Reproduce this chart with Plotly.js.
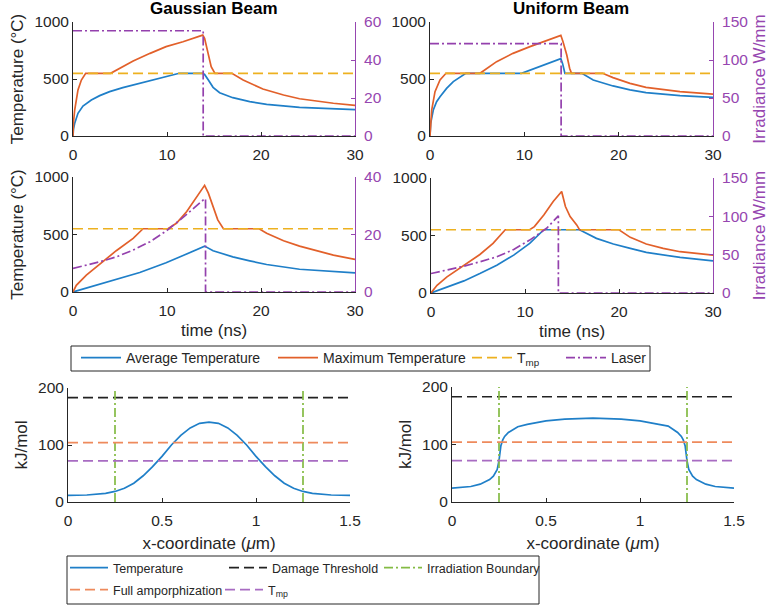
<!DOCTYPE html>
<html><head><meta charset="utf-8">
<script src="https://cdn.plot.ly/plotly-3.0.1.min.js"></script>
<style>html,body{margin:0;padding:0;background:#fff}#chart{width:769px;height:607px}</style>
</head><body><div id="chart"></div><script>
// ---------- DATA ----------
// Gaussian beam, top row
const gTopAvgT = [0,0.05,0.18,0.53,1.06,1.95,2.84,3.9,5.3,7.1,8.5,9.9,11,11.3,13.8,14.0,14.4,14.9,15.6,17,18.8,20.6,24.1,27.7,30];
const gTopAvg  = [0,60,111,199,263,316,354,389,424,462,491,515,544,550,550,540,491,427,380,336,301,278,251,237,232];
const gTopMaxT = [0,0.05,0.18,0.53,0.89,1.35,4.0,5.0,6.4,8.2,9.9,11.7,13.8,14.0,14.4,14.7,15.1,16.9,18.1,20.2,22.4,24.1,27.7,30];
const gTopMax  = [0,120,228,404,491,550,550,594,658,725,784,827,885,857,725,608,550,550,491,412,360,327,287,269];
const gTopLaserT = [0,13.85,13.85,30];
const gTopLaser  = [55.4,55.4,0,0];
// Uniform beam, top row
const uTopAvgT = [0,0.07,0.35,0.7,1.06,1.76,2.47,3.2,3.7,3.8,9.7,10.6,12.35,13.87,14.05,14.3,16.1,17.3,19.4,21.2,22.9,26.5,30];
const uTopAvg  = [0,111,228,301,345,418,477,518,547,550,550,579,629,678,637,550,550,491,439,404,380,354,339];
const uTopMaxT = [0,0.18,0.53,1.06,1.7,5.3,7.06,8.8,10.6,12.35,13.87,14.1,14.5,14.8,15.0,18.3,19.4,21.2,22.9,26.5,30];
const uTopMax  = [0,228,389,491,550,550,652,725,784,836,883,827,711,594,550,550,512,462,427,389,368];
const uTopLaserT = [0,13.9,13.9,30];
const uTopLaser  = [121.5,121.5,0,0];
// Gaussian beam, middle row
const gMidAvgT = [0,2.84,5.0,7.1,8.9,9.9,11.4,12.8,14.0,14.9,17,18.8,20.6,24.1,27.7,30];
const gMidAvg  = [0,67,117,169,224,254,306,359,399,359,306,271,239,198,175,166];
const gMidMaxT = [0,0.35,1.42,2.84,4.6,6.4,7.45,10.1,11.0,12.1,13.1,14.0,14.4,14.9,15.4,16.0,19.8,20.6,22.4,24.1,25.9,27.7,30];
const gMidMax  = [0,58,146,242,359,466,550,550,598,700,816,927,860,743,627,550,550,510,446,399,359,321,283];
const gMidLaserT = [0,2.84,4.6,6.4,8.2,9.9,11.4,12.8,14.0,14.1,14.1,30];
const gMidLaser  = [8.2,10.5,12.2,14.6,17.5,21.2,25.1,29.2,32.4,32.4,0,0];
// Uniform beam, middle row
const uMidAvgT = [0,1.7,3.5,5.2,7.0,8.8,10.5,12.0,15.8,17.6,19.4,21.2,22.9,26.5,30];
const uMidAvg  = [0,52,105,169,242,329,431,550,550,475,426,388,353,309,280];
const uMidMaxT = [0,0.64,1.7,3.5,5.2,6.6,7.9,10.5,11.0,12.0,13.0,13.9,14.3,14.8,15.5,15.8,20.0,21.2,22.9,24.7,26.5,30];
const uMidMax  = [0,67,140,242,335,431,550,550,577,679,796,883,752,665,592,550,550,484,426,388,359,329];
const uMidLaserT = [0,1.7,3.5,5.2,7.0,8.8,10.5,12.3,13.55,13.55,30];
const uMidLaser  = [25.4,29.7,35,40.7,47.2,56.8,69,84.4,100.6,0,0];
// Melting temperature (°C) and time span
const tmpTime = [0,30];
const tmpValue = [550,550];
// Bottom row: energy along x (kJ/mol)
const gBotX = [0,0.1,0.2,0.25,0.3,0.35,0.4,0.45,0.5,0.55,0.6,0.65,0.7,0.75,0.8,0.85,0.9,0.95,1.0,1.05,1.1,1.15,1.2,1.25,1.3,1.4,1.5];
const gBotE = [11.7,12.3,15,18.5,24,33,46,62,80,100,117,130,138,140,138,130,117,100,80,62,46,33,24,18.5,15,12.3,11.7];
const uBotX = [0,0.1,0.15,0.2,0.22,0.24,0.25,0.26,0.27,0.28,0.3,0.35,0.4,0.5,0.6,0.75,0.9,1.0,1.1,1.15,1.2,1.22,1.23,1.24,1.25,1.26,1.28,1.3,1.35,1.4,1.5];
const uBotE = [24,27,31,39,45,56,72,98,108,114,121,131,135,141,144,146,144,141,135,132,121,114,108,98,72,56,45,39,31,27,24];
const xSpan = [0,1.5];
const damageThreshold = [183,183];
const fullAmorph = [104,104];
const tmpEnergy = [72,72];
const boundaryX = [0.25,0.25,null,1.25,1.25];
const boundaryY = [0,200,null,0,200];

// ---------- STYLE ----------
const W = 769, H = 607;
const BLUE = '#1f7fc8', RED = '#e2602a', YEL = '#edb120', PUR = '#9441ad', GRN = '#84bb44';
const AXC = '#262626', PURAX = '#9646b0';
const FONT = 'Liberation Sans, Arial, sans-serif';
const DASH = '10px,5px', DASHDOT = '9px,3px,2px,3px';
const dX = (a,b) => [a/W, b/W];
const dY = (top,bottom) => [1-bottom/H, 1-top/H];

function tr(x,y,xa,ya,color,dash,name,opts){
  return Object.assign({type:'scatter',mode:'lines',x:x,y:y,xaxis:xa,yaxis:ya,name:name,
    line:{color:color,width:1.7,dash:dash||'solid'},showlegend:false,hoverinfo:'skip'},opts||{});
}
const data = [];
// top-left
data.push(tr(gTopAvgT,gTopAvg,'x','y',BLUE,null,'Average Temperature',{showlegend:true,legend:'legend',legendwidth:142}));
data.push(tr(gTopMaxT,gTopMax,'x','y',RED,null,'Maximum Temperature',{showlegend:true,legend:'legend',legendwidth:139}));
data.push(tr(tmpTime,tmpValue,'x','y',YEL,DASH,'T<sub>mp</sub>',{showlegend:true,legend:'legend',legendwidth:39}));
data.push(tr(gTopLaserT,gTopLaser,'x','y2',PUR,DASHDOT,'Laser',{showlegend:true,legend:'legend',legendwidth:40}));
// top-right
data.push(tr(uTopAvgT,uTopAvg,'x2','y3',BLUE));
data.push(tr(uTopMaxT,uTopMax,'x2','y3',RED));
data.push(tr(tmpTime,tmpValue,'x2','y3',YEL,DASH));
data.push(tr(uTopLaserT,uTopLaser,'x2','y4',PUR,DASHDOT));
// middle-left
data.push(tr(gMidAvgT,gMidAvg,'x3','y5',BLUE));
data.push(tr(gMidMaxT,gMidMax,'x3','y5',RED));
data.push(tr(tmpTime,tmpValue,'x3','y5',YEL,DASH));
data.push(tr(gMidLaserT,gMidLaser,'x3','y6',PUR,DASHDOT));
// middle-right
data.push(tr(uMidAvgT,uMidAvg,'x4','y7',BLUE));
data.push(tr(uMidMaxT,uMidMax,'x4','y7',RED));
data.push(tr(tmpTime,tmpValue,'x4','y7',YEL,DASH));
data.push(tr(uMidLaserT,uMidLaser,'x4','y8',PUR,DASHDOT));
// bottom-left
const ORA = '#ee8a5c', PUR2 = '#a86cc2', BLK = '#222222';
data.push(tr(gBotX,gBotE,'x5','y9',BLUE,null,'Temperature',{showlegend:true,legend:'legend2',legendwidth:106}));
data.push(tr(xSpan,damageThreshold,'x5','y9',BLK,DASH,'Damage Threshold',{showlegend:true,legend:'legend2',legendwidth:102}));
data.push(tr(boundaryX,boundaryY,'x5','y9',GRN,DASHDOT,'Irradiation Boundary',{showlegend:true,legend:'legend2',legendwidth:0}));
data.push(tr(xSpan,fullAmorph,'x5','y9',ORA,DASH,'Full amporphization',{showlegend:true,legend:'legend3',legendwidth:102}));
data.push(tr(xSpan,tmpEnergy,'x5','y9',PUR2,DASH,'T<sub>mp</sub>',{showlegend:true,legend:'legend3',legendwidth:0}));
// bottom-right
data.push(tr(uBotX,uBotE,'x6','y10',BLUE));
data.push(tr(xSpan,damageThreshold,'x6','y10',BLK,DASH));
data.push(tr(boundaryX,boundaryY,'x6','y10',GRN,DASHDOT));
data.push(tr(xSpan,fullAmorph,'x6','y10',ORA,DASH));
data.push(tr(xSpan,tmpEnergy,'x6','y10',PUR2,DASH));

const base = {showline:true,linecolor:AXC,linewidth:1,ticks:'inside',ticklen:4,tickwidth:1,tickcolor:AXC,
  tickfont:{size:15.5,color:AXC},showgrid:false,zeroline:false,fixedrange:true,automargin:true};
const purBase = Object.assign({},base,{linecolor:PURAX,tickcolor:PURAX,tickfont:{size:15.5,color:PURAX},side:'right',ticklabelstandoff:5});
const ttl = (t,s,c) => ({text:t,font:{size:17,color:c||AXC},standoff:s});
const timeAx = d => Object.assign({},base,{domain:d,range:[0,30],tickvals:[0,10,20,30],ticklabelstandoff:4});
const tempAx = (d,a) => Object.assign({},base,{domain:d,anchor:a,range:[0,1000],tickvals:[0,500,1000]});
const posAx = d => Object.assign({},base,{domain:d,range:[0,1.5],tickvals:[0,0.5,1,1.5],ticktext:['0','0.5','1','1.5'],ticklabelstandoff:4});

const layout = {
  width:W,height:H,margin:{l:0,r:0,t:0,b:0,autoexpand:false},
  paper_bgcolor:'#ffffff',plot_bgcolor:'#ffffff',
  font:{family:FONT,color:AXC},
  xaxis:Object.assign(timeAx(dX(73,355)),{anchor:'y'}),
  yaxis:Object.assign(tempAx(dY(22,136),'x'),{title:ttl('Temperature (°C)',6)}),
  yaxis2:Object.assign({},purBase,{overlaying:'y',anchor:'x',range:[0,60],tickvals:[0,20,40,60]}),
  xaxis2:Object.assign(timeAx(dX(430,713)),{anchor:'y3'}),
  yaxis3:tempAx(dY(22,136),'x2'),
  yaxis4:Object.assign({},purBase,{overlaying:'y3',anchor:'x2',range:[0,150],tickvals:[0,50,100,150],title:ttl('Irradiance W/mm',9,PURAX)}),
  xaxis3:Object.assign(timeAx(dX(73,355)),{anchor:'y5',title:ttl('time (ns)',6)}),
  yaxis5:Object.assign(tempAx(dY(177,292),'x3'),{title:ttl('Temperature (°C)',6)}),
  yaxis6:Object.assign({},purBase,{overlaying:'y5',anchor:'x3',range:[0,40],tickvals:[0,20,40]}),
  xaxis4:Object.assign(timeAx(dX(431,713)),{anchor:'y7',title:ttl('time (ns)',6)}),
  yaxis7:tempAx(dY(178,293),'x4'),
  yaxis8:Object.assign({},purBase,{overlaying:'y7',anchor:'x4',range:[0,150],tickvals:[0,50,100,150],title:ttl('Irradiance W/mm',9,PURAX)}),
  xaxis5:Object.assign(posAx(dX(68,350)),{anchor:'y9',title:ttl('x-coordinate (<i>μ</i>m)',9)}),
  yaxis9:Object.assign({},base,{domain:dY(388,502),anchor:'x5',range:[0,200],tickvals:[0,100,200],title:ttl('kJ/mol',6)}),
  xaxis6:Object.assign(posAx(dX(452,734)),{anchor:'y10',title:ttl('x-coordinate (<i>μ</i>m)',9)}),
  yaxis10:Object.assign({},base,{domain:dY(387,502),anchor:'x6',range:[0,200],tickvals:[0,100,200],title:ttl('kJ/mol',6)}),
  legend:{orientation:'h',x:76/W,xanchor:'left',y:1-358/H,yanchor:'middle',itemwidth:40,font:{size:14,color:AXC},bgcolor:'rgba(0,0,0,0)',borderwidth:0,traceorder:'normal'},
  legend2:{orientation:'h',x:65/W,xanchor:'left',y:1-568/H,yanchor:'middle',itemwidth:38,font:{size:12.5,color:AXC},bgcolor:'rgba(0,0,0,0)',borderwidth:0,traceorder:'normal'},
  legend3:{orientation:'h',x:65/W,xanchor:'left',y:1-590/H,yanchor:'middle',itemwidth:38,font:{size:12.5,color:AXC},bgcolor:'rgba(0,0,0,0)',borderwidth:0,traceorder:'normal'},
  shapes:[
    {type:'rect',xref:'paper',yref:'paper',x0:71/W,x1:650/W,y0:1-371/H,y1:1-346/H,line:{color:AXC,width:1},fillcolor:'rgba(0,0,0,0)',layer:'below'},
    {type:'rect',xref:'paper',yref:'paper',x0:67/W,x1:539/W,y0:1-604/H,y1:1-556/H,line:{color:AXC,width:1},fillcolor:'rgba(0,0,0,0)',layer:'below'}
  ],
  annotations:[
    {text:'Gaussian Beam',xref:'paper',yref:'paper',x:214/W,y:1-9/H,xanchor:'center',yanchor:'middle',showarrow:false,font:{size:17,weight:'bold',color:'#000'}},
    {text:'Uniform Beam',xref:'paper',yref:'paper',x:571/W,y:1-9/H,xanchor:'center',yanchor:'middle',showarrow:false,font:{size:17,weight:'bold',color:'#000'}}
  ]
};
Plotly.newPlot('chart',data,layout,{displayModeBar:false,staticPlot:true});
</script></body></html>
